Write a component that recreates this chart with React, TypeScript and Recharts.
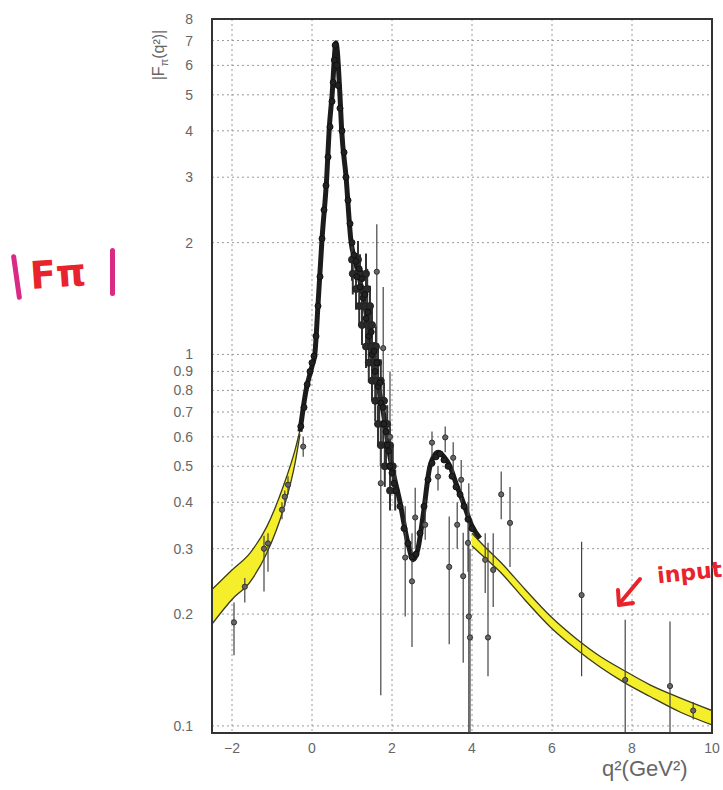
import React from "react";
import {
  ComposedChart,
  Area,
  Line,
  Scatter,
  ErrorBar,
  XAxis,
  YAxis,
  CartesianGrid,
  ReferenceArea,
} from "recharts";

// yellow model band, space-like side (q2 < 0)
const bandLeftQ = [-2.5, -2.0, -1.55, -1.13, -0.72, -0.42, -0.3];
const bandLeftLo = [0.188, 0.219, 0.244, 0.292, 0.382, 0.512, 0.61];
const bandLeftHi = [0.233, 0.263, 0.292, 0.344, 0.441, 0.555, 0.625];

// yellow model band, time-like tail
const bandRightQ = [4.0, 4.3, 4.7, 5.33, 5.95, 6.6, 7.2, 7.8, 8.45, 9.2, 10];
const bandRightLo = [0.305, 0.285, 0.26, 0.218, 0.185, 0.161, 0.144, 0.131, 0.12, 0.109, 0.1006];
const bandRightHi = [0.33, 0.305, 0.277, 0.233, 0.198, 0.172, 0.154, 0.141, 0.129, 0.119, 0.11];

// central fit curve
const curveQ = [-0.3, -0.15, 0, 0.07, 0.15, 0.25, 0.37, 0.43, 0.5, 0.6, 0.7, 0.74, 0.85, 0.97, 1.1, 1.2, 1.35, 1.45, 1.62, 1.78, 1.95, 2.2, 2.4, 2.53, 2.65, 2.78, 2.95, 3.15, 3.3, 3.45, 3.6, 3.78, 4.0, 4.2];
const curveV = [0.62, 0.8, 0.93, 1.0, 1.36, 2.04, 3.02, 4.04, 4.96, 6.9, 4.96, 4.04, 3.02, 2.04, 1.75, 1.58, 1.3, 1.1, 0.86, 0.7, 0.53, 0.4, 0.31, 0.28, 0.3, 0.37, 0.5, 0.545, 0.53, 0.5, 0.45, 0.4, 0.345, 0.32];

// dense measurements hugging the curve
const denseQ = [-0.28, -0.2, -0.12, -0.05, 0.0, 0.05, 0.1, 0.15, 0.2, 0.25, 0.3, 0.35, 0.4, 0.45, 0.5, 0.53, 0.56, 0.58, 0.62, 0.65, 0.7, 0.75, 0.8, 0.85, 0.9, 0.95, 1.0, 1.05, 1.1, 1.12, 1.18, 1.2, 1.25, 1.28, 1.32, 1.35, 1.4, 1.42, 1.48, 1.5, 1.55, 1.58, 1.62, 1.65, 1.7, 1.72, 1.78, 1.8, 1.85, 1.88, 1.92, 1.95, 2.0, 2.05, 2.1, 2.2, 2.3, 2.4, 2.5, 2.6, 2.7, 2.8, 2.9, 3.0, 3.1, 3.2, 3.3, 3.4, 3.5, 3.6, 3.7, 3.8, 3.9, 4.0];
const denseV = [0.64, 0.72, 0.83, 0.9, 0.95, 0.99, 1.12, 1.35, 1.62, 2.05, 2.45, 2.85, 3.4, 4.1, 4.8, 5.4, 6.2, 6.8, 6.0, 5.3, 4.6, 4.0, 3.5, 3.0, 2.6, 2.25, 2.0, 1.85, 1.78, 1.62, 1.7, 1.52, 1.6, 1.42, 1.45, 1.25, 1.3, 1.12, 1.15, 1.0, 1.02, 0.9, 0.95, 0.82, 0.84, 0.74, 0.72, 0.65, 0.62, 0.57, 0.55, 0.5, 0.48, 0.45, 0.43, 0.39, 0.34, 0.31, 0.285, 0.29, 0.33, 0.39, 0.46, 0.51, 0.53, 0.54, 0.52, 0.5, 0.47, 0.44, 0.42, 0.39, 0.36, 0.34];

// the broad cloud between the rho peak and q2 ~ 2
const cloudQ = [1.0, 1.15, 1.02, 1.2, 1.35, 1.1, 1.25, 1.38, 1.18, 1.32, 1.45, 1.25, 1.4, 1.5, 1.35, 1.48, 1.6, 1.42, 1.55, 1.65, 1.5, 1.6, 1.72, 1.58, 1.68, 1.8, 1.65, 1.78, 1.88, 1.72, 1.85, 1.95, 1.82, 1.95, 2.02, 1.95, 2.08];
const cloudV = [1.8, 1.8, 1.65, 1.65, 1.65, 1.5, 1.5, 1.5, 1.35, 1.35, 1.35, 1.2, 1.2, 1.2, 1.05, 1.05, 1.05, 0.95, 0.95, 0.95, 0.85, 0.85, 0.85, 0.75, 0.75, 0.75, 0.65, 0.65, 0.65, 0.57, 0.57, 0.57, 0.5, 0.5, 0.5, 0.43, 0.43];
const cloudLo = [1.58, 1.6, 1.45, 1.46, 1.44, 1.32, 1.33, 1.3, 1.19, 1.2, 1.18, 1.06, 1.05, 1.06, 0.92, 0.93, 0.91, 0.84, 0.83, 0.84, 0.75, 0.74, 0.75, 0.66, 0.66, 0.65, 0.57, 0.58, 0.57, 0.5, 0.5, 0.5, 0.44, 0.44, 0.44, 0.38, 0.38];
const cloudHi = [2.03, 2.02, 1.87, 1.86, 1.87, 1.7, 1.69, 1.7, 1.53, 1.52, 1.53, 1.36, 1.35, 1.36, 1.19, 1.18, 1.19, 1.07, 1.08, 1.07, 0.96, 0.96, 0.97, 0.85, 0.85, 0.84, 0.73, 0.74, 0.73, 0.64, 0.65, 0.64, 0.57, 0.56, 0.57, 0.49, 0.49];

// isolated measurements with error bars
const measQ = [-1.95, -1.68, -1.2, -1.1, -0.75, -0.68, -0.6, -0.22, 1.62, 1.78, 1.95, 1.72, 2.33, 2.5, 2.58, 2.83, 3.0, 3.15, 3.33, 3.43, 3.53, 3.63, 3.73, 3.78, 3.9, 3.92, 3.95, 4.33, 4.4, 4.53, 4.73, 4.95, 6.74, 7.83, 8.95, 9.53];
const measV = [0.19, 0.237, 0.3, 0.31, 0.382, 0.414, 0.446, 0.565, 1.67, 1.04, 0.6, 0.45, 0.284, 0.245, 0.364, 0.348, 0.579, 0.469, 0.598, 0.268, 0.527, 0.348, 0.46, 0.253, 0.311, 0.197, 0.173, 0.28, 0.173, 0.263, 0.42, 0.352, 0.225, 0.133, 0.128, 0.11];
const measLo = [0.155, 0.215, 0.23, 0.26, 0.36, 0.39, 0.42, 0.53, 0.75, 0.7, 0.42, 0.121, 0.197, 0.163, 0.3, 0.317, 0.53, 0.43, 0.545, 0.166, 0.47, 0.3, 0.4, 0.148, 0.26, 0.0957, 0.0957, 0.228, 0.136, 0.209, 0.36, 0.268, 0.136, 0.0957, 0.0957, 0.104];
const measHi = [0.215, 0.25, 0.325, 0.33, 0.4, 0.43, 0.47, 0.6, 2.24, 1.52, 0.9, 0.65, 0.39, 0.33, 0.438, 0.407, 0.62, 0.5, 0.64, 0.366, 0.58, 0.4, 0.52, 0.331, 0.4, 0.45, 0.3, 0.33, 0.311, 0.33, 0.484, 0.44, 0.313, 0.193, 0.191, 0.116];

const yTicks = [0.1, 0.2, 0.3, 0.4, 0.5, 0.6, 0.7, 0.8, 0.9, 1, 2, 3, 4, 5, 6, 7, 8];
const xTicks = [-2, 0, 2, 4, 6, 8, 10];

const bandLeft = bandLeftQ.map((q, i) => ({ q, range: [bandLeftLo[i], bandLeftHi[i]] }));
const bandRight = bandRightQ.map((q, i) => ({ q, range: [bandRightLo[i], bandRightHi[i]] }));
const curve = curveQ.map((q, i) => ({ q, v: curveV[i] }));
const dense = denseQ.map((q, i) => ({ q, v: denseV[i] }));
const cloud = cloudQ.map((q, i) => ({
  q,
  v: cloudV[i],
  err: [cloudV[i] - cloudLo[i], cloudHi[i] - cloudV[i]],
}));
const meas = measQ.map((q, i) => ({
  q,
  v: measV[i],
  err: [measV[i] - measLo[i], measHi[i] - measV[i]],
}));

const font = "'Liberation Sans', Arial, sans-serif";
const tickStyle = { fill: "#666", fontSize: 14, fontFamily: font };

const Dot = (props: any) => (
  <circle cx={props.cx} cy={props.cy} r={2.6} fill="#666" stroke="#333" strokeWidth={1} />
);
const DenseDot = (props: any) => (
  <circle cx={props.cx} cy={props.cy} r={3} fill="#222" stroke="#111" strokeWidth={1} />
);
const CloudDot = (props: any) => (
  <circle cx={props.cx} cy={props.cy} r={3.5} fill="#2a2a2a" stroke="#222" strokeWidth={1} />
);

export default function App() {
  return (
    <div style={{ position: "absolute", left: 0, top: 0, width: 723, height: 790, background: "#fff", overflow: "hidden" }}>
      <ComposedChart
        width={723}
        height={790}
        margin={{ top: 19, right: 11, bottom: 17, left: 162 }}
      >
        <CartesianGrid strokeDasharray="2 3" stroke="#9a9a9a" />
        <XAxis
          dataKey="q"
          type="number"
          domain={[-2.5, 10]}
          ticks={xTicks}
          interval={0}
          allowDataOverflow
          height={40}
          tickLine={false}
          tickMargin={4}
          tick={tickStyle}
          tickFormatter={(t: number) => String(t).replace("-", "\u2212")}
          axisLine={{ stroke: "#333", strokeWidth: 2 }}
        />
        <YAxis
          dataKey="v"
          type="number"
          scale="log"
          domain={[0.0957, 8]}
          ticks={yTicks}
          interval={0}
          allowDataOverflow
          width={50}
          tickLine={false}
          tickMargin={13}
          tick={tickStyle}
          axisLine={{ stroke: "#333", strokeWidth: 2 }}
        />
        <Area
          data={bandLeft}
          dataKey="range"
          type="monotoneX"
          fill="#f4ef2a"
          fillOpacity={1}
          stroke="#3b3a1c"
          strokeWidth={1.3}
          isAnimationActive={false}
        />
        <Area
          data={bandRight}
          dataKey="range"
          type="monotoneX"
          fill="#f4ef2a"
          fillOpacity={1}
          stroke="#3b3a1c"
          strokeWidth={1.3}
          isAnimationActive={false}
        />
        <Line
          data={curve}
          dataKey="v"
          type="monotoneX"
          stroke="#1c1c1c"
          strokeWidth={5}
          dot={false}
          isAnimationActive={false}
        />
        <Scatter data={cloud} dataKey="v" shape={CloudDot} isAnimationActive={false}>
          <ErrorBar dataKey="err" direction="y" width={0} stroke="#333" strokeWidth={2} />
        </Scatter>
        <Scatter data={dense} dataKey="v" shape={DenseDot} isAnimationActive={false} />
        <Scatter data={meas} dataKey="v" shape={Dot} isAnimationActive={false}>
          <ErrorBar dataKey="err" direction="y" width={0} stroke="#444" strokeWidth={1.2} />
        </Scatter>
        <ReferenceArea
          x1={-2.5}
          x2={10}
          y1={0.0957}
          y2={8}
          fill="none"
          stroke="#333"
          strokeWidth={2}
          ifOverflow="visible"
        />
      </ComposedChart>

      <div
        style={{
          position: "absolute",
          left: 160,
          top: 55,
          transform: "translate(-50%, -50%) rotate(-90deg)",
          color: "#666",
          fontFamily: font,
          fontSize: 16,
          whiteSpace: "nowrap",
        }}
      >
        |F<sub style={{ fontSize: 11 }}>π</sub>(q²)|
      </div>
      <div
        style={{
          position: "absolute",
          left: 602,
          top: 756,
          color: "#666",
          fontFamily: font,
          fontSize: 22,
          whiteSpace: "nowrap",
        }}
      >
        q²(GeV²)
      </div>

      <div style={{ position: "absolute", left: 14, top: 254, width: 5, height: 46, background: "#d92a86", borderRadius: 3, transform: "rotate(-8deg)" }} />
      <div
        style={{
          position: "absolute",
          left: 30,
          top: 252,
          color: "#e8232b",
          fontFamily: "'DejaVu Sans', sans-serif",
          fontSize: 38,
          fontWeight: 700,
          transform: "rotate(-4deg)",
          whiteSpace: "nowrap",
        }}
      >
        Fπ
      </div>
      <div style={{ position: "absolute", left: 110, top: 248, width: 5, height: 48, background: "#d92a86", borderRadius: 3 }} />
      <div
        style={{
          position: "absolute",
          left: 657,
          top: 560,
          color: "#e8232b",
          fontFamily: "'DejaVu Sans', sans-serif",
          fontSize: 22,
          fontWeight: 700,
          transform: "rotate(-6deg)",
          whiteSpace: "nowrap",
        }}
      >
        input
      </div>
      <svg style={{ position: "absolute", left: 0, top: 0 }} width={723} height={790}>
        <path d="M640 579 L620 603" stroke="#e8232b" strokeWidth={4} strokeLinecap="round" fill="none" />
        <path d="M618 590 L619 605 L633 603" stroke="#e8232b" strokeWidth={4} strokeLinecap="round" strokeLinejoin="round" fill="none" />
      </svg>
    </div>
  );
}
